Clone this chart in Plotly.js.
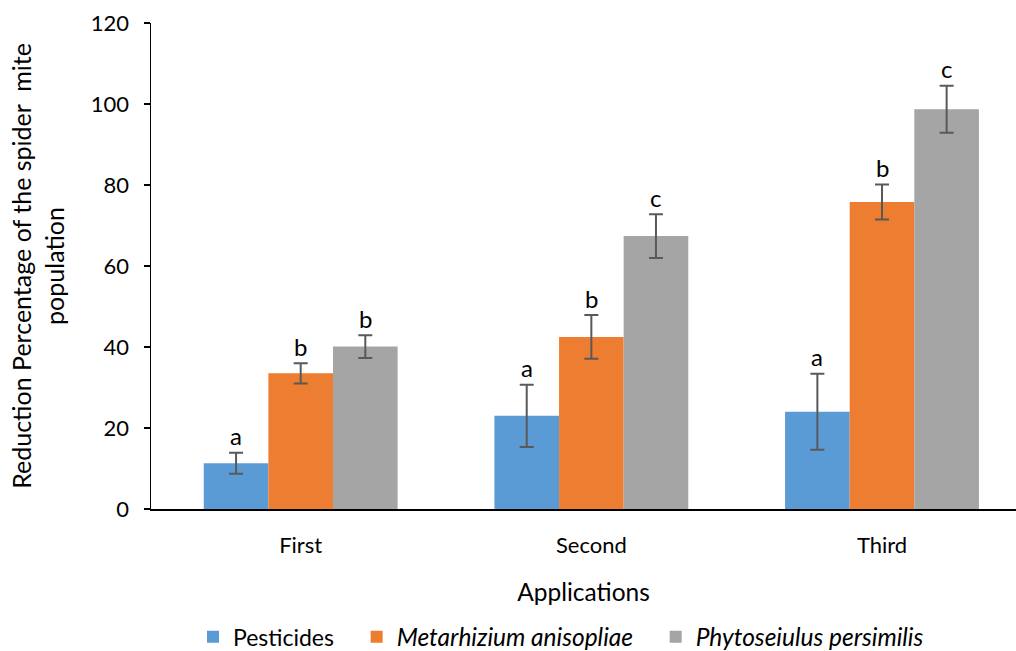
<!DOCTYPE html>
<html>
<head>
<meta charset="utf-8">
<script src="https://cdn.plot.ly/plotly-3.0.1.min.js"></script>
<style>html,body{margin:0;padding:0;background:#fff;}#chart{width:1016px;height:651px;}</style>
</head>
<body>
<div id="chart"></div>
<script>
const categories = ["First", "Second", "Third"];
const seriesNames = ["Pesticides", "Metarhizium anisopliae", "Phytoseiulus persimilis"];
const italicSeries = [false, true, true];
const pesticides = [11.3, 23.0, 24.0];
const metarhizium = [33.5, 42.5, 75.8];
const phytoseiulus = [40.1, 67.4, 98.7];
const pesticidesErr = [2.6, 7.7, 9.4];
const metarhiziumErr = [2.5, 5.4, 4.3];
const phytoseiulusErr = [2.8, 5.4, 5.8];
const pesticidesLetters = ["a", "a", "a"];
const metarhiziumLetters = ["b", "b", "b"];
const phytoseiulusLetters = ["b", "c", "c"];

const colors = ["#5B9BD5", "#ED7D31", "#A5A5A5"];
const values = [pesticides, metarhizium, phytoseiulus];
const errs = [pesticidesErr, metarhiziumErr, phytoseiulusErr];
const letters = [pesticidesLetters, metarhiziumLetters, phytoseiulusLetters];
const FONT = "Lato, 'Open Sans', sans-serif";

function legendLabel(i) {
  let t = seriesNames[i];
  if (italicSeries[i]) t = '<span style="font-size:24.5px"><i>' + t + '</i></span>';
  if (i < seriesNames.length - 1) t += '&nbsp;&nbsp;&nbsp;';
  return t;
}

const traces = values.map((v, i) => ({
  type: "bar",
  name: legendLabel(i),
  x: categories,
  y: v,
  marker: {color: colors[i]},
  error_y: {type: "data", array: errs[i], visible: true, color: "#595959", thickness: 2, width: 7}
}));

const bargap = 0.333;
const barW = (1 - bargap) / 3;
const annotations = [];
values.forEach((v, i) => {
  v.forEach((val, j) => {
    annotations.push({
      x: j + (i - 1) * barW, xref: "x",
      y: val + errs[i][j], yref: "y",
      text: letters[i][j], showarrow: false,
      yanchor: "middle", yshift: 17,
      font: {family: FONT, size: 24, color: "#000"}
    });
  });
});

const layout = {
  width: 1016, height: 651,
  margin: {l: 151, r: 0, t: 23, b: 142, autoexpand: false},
  paper_bgcolor: "#fff", plot_bgcolor: "#fff",
  barmode: "group", bargap: bargap, bargroupgap: 0,
  font: {family: FONT, size: 22, color: "#000"},
  showlegend: true,
  legend: {orientation: "h", x: 0.474, xanchor: "center", yref: "container", y: 0.022, yanchor: "middle",
           font: {family: FONT, size: 23, color: "#000"}, traceorder: "normal"},
  xaxis: {
    type: "category", range: [-0.515, 2.461], automargin: false,
    showline: true, linecolor: "#000", linewidth: 1.5,
    ticks: "", ticklabelstandoff: 16,
    tickfont: {family: FONT, size: 22},
    showgrid: false, zeroline: false,
    title: {text: "Applications", font: {family: FONT, size: 24.5}, standoff: 27}
  },
  yaxis: {
    range: [0, 120], tickvals: [0, 20, 40, 60, 80, 100, 120], automargin: false,
    showline: true, linecolor: "#000", linewidth: 1.5,
    ticks: "outside", ticklen: 6, tickcolor: "#000", tickwidth: 1.5,
    ticklabelstandoff: 10,
    tickfont: {family: FONT, size: 22},
    showgrid: false, zeroline: false,
    title: {text: "Reduction Percentage of the spider  mite<br>population", font: {family: FONT, size: 25}, standoff: 19}
  },
  annotations: annotations
};

Plotly.newPlot("chart", traces, layout, {displayModeBar: false, staticPlot: true});
</script>
</body>
</html>
